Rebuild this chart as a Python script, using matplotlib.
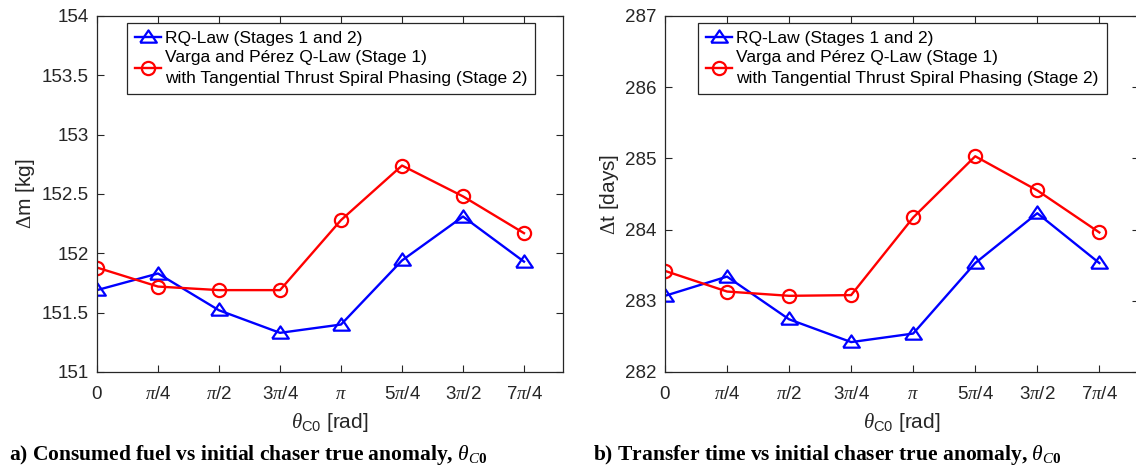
import numpy as np
import matplotlib
matplotlib.use("Agg")
import matplotlib.pyplot as plt
from matplotlib.ticker import FuncFormatter

plt.rcParams['font.family'] = ['Liberation Sans', 'DejaVu Sans']
plt.rcParams['mathtext.fontset'] = 'custom'
plt.rcParams['mathtext.rm'] = 'Liberation Serif'
plt.rcParams['mathtext.it'] = 'Liberation Serif:italic'
plt.rcParams['mathtext.bf'] = 'Liberation Serif:bold'
plt.rcParams['mathtext.sf'] = 'Liberation Sans'

# initial chaser true anomaly, in units of pi/4
theta_steps = [0, 1, 2, 3, 4, 5, 6, 7]
tick_labels = ['0', r'$\pi$/4', r'$\pi$/2', r'3$\pi$/4', r'$\pi$',
               r'5$\pi$/4', r'3$\pi$/2', r'7$\pi$/4']

# consumed fuel [kg]
fuel_rq = [151.69, 151.83, 151.52, 151.33, 151.40, 151.94, 152.31, 151.93]
fuel_varga = [151.88, 151.72, 151.69, 151.69, 152.28, 152.74, 152.48, 152.17]

# transfer time [days]
time_rq = [283.07, 283.34, 282.74, 282.42, 282.54, 283.53, 284.23, 283.53]
time_varga = [283.42, 283.13, 283.07, 283.08, 284.17, 285.03, 284.55, 283.96]

label_rq = 'RQ-Law (Stages 1 and 2)'
label_varga = ('Varga and P\u00e9rez Q-Law (Stage 1)\n'
               'with Tangential Thrust Spiral Phasing (Stage 2)')

theta = np.array(theta_steps) * np.pi / 4
gray = (0.15, 0.15, 0.15)
fs = 13.5

# wide flat triangle like matlab's
tri = [(-1.0, -0.62), (1.0, -0.62), (0.0, 0.85), (-1.0, -0.62)]

fig = plt.figure(figsize=(11.36, 4.74), dpi=100)
W, H = 1136.0, 474.0


def panel(rect, rq, varga, ylim, ylabel, legx):
    ax = fig.add_axes(rect)
    ax.plot(theta, rq, color='blue', lw=1.7, marker=tri, ms=12,
            mfc='none', mew=1.6, label=label_rq)
    ax.plot(theta, varga, color='red', lw=1.7, marker='o', ms=9.5,
            mfc='none', mew=1.6, label=label_varga)
    ax.set_xlim(0, 6)
    ax.set_ylim(*ylim)
    ax.set_xticks(theta)
    ax.set_xticklabels(tick_labels)
    ax.yaxis.set_major_formatter(FuncFormatter(lambda v, p: '%g' % v))
    ax.tick_params(direction='in', length=5, width=0.8, colors=gray,
                   labelsize=fs, top=True, right=True, pad=6)
    ax.tick_params(axis='x', pad=10)
    for s in ax.spines.values():
        s.set_color(gray)
        s.set_linewidth(0.9)
    ax.set_xlabel(r'$\theta_{\mathsf{C0}}$ [rad]', fontsize=15, color=gray,
                  labelpad=6)
    ax.set_ylabel(ylabel, fontsize=15, color=gray, labelpad=3)
    leg = ax.legend(loc='upper left', bbox_to_anchor=(legx, 0.98),
                    fontsize=12.5, frameon=True, fancybox=False,
                    framealpha=1, edgecolor=gray, borderaxespad=0,
                    borderpad=0.45, labelspacing=0.25, handlelength=1.5,
                    handletextpad=0.25)
    leg.get_frame().set_linewidth(0.9)
    for t in leg.get_texts():
        t.set_linespacing(1.5)
    return ax


ax1 = panel([97 / W, 102 / H, 466 / W, 356 / H], fuel_rq, fuel_varga,
            (151, 154), r'$\Delta$m [kg]', 0.064)
ax1.set_yticks([151, 151.5, 152, 152.5, 153, 153.5, 154])

ax2 = panel([665 / W, 102 / H, 474 / W, 356 / H], time_rq, time_varga,
            (282, 287), r'$\Delta$t [days]', 0.07)
ax2.set_yticks([282, 283, 284, 285, 286, 287])

cap = dict(fontsize=15.5, fontweight='bold', family='Liberation Serif',
           va='center', ha='left')
fig.text(9 / W, 1 - 455 / H,
         r'a) Consumed fuel vs initial chaser true anomaly, $\theta_{C\mathbf{0}}$',
         **cap)
fig.text(593 / W, 1 - 455 / H,
         r'b) Transfer time vs initial chaser true anomaly, $\theta_{C\mathbf{0}}$',
         **cap)

fig.savefig('out.png', dpi=100)
